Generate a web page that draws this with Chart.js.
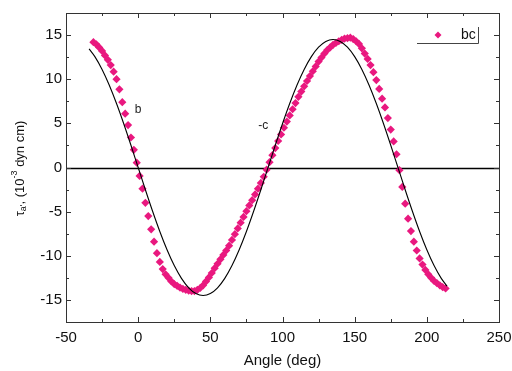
<!DOCTYPE html>
<html>
<head>
<meta charset="utf-8">
<script src="https://cdn.jsdelivr.net/npm/chart.js@4.4.1/dist/chart.umd.min.js"></script>
<style>
  html, body { margin: 0; padding: 0; background: #fff; }
  #wrap { width: 512px; height: 371px; }
</style>
</head>
<body>
<div id="wrap"><canvas id="torqueChart" width="512" height="371"></canvas></div>
<script>
// Fitted curve (solid black line)
const fitAngle = [-34, -30, -25, -20, -15, -10, -5, 0, 5, 10, 15, 20, 25, 30, 35, 40, 45, 50, 55, 60,
    65, 70, 75, 80, 85, 90, 95, 100, 105, 110, 115, 120, 125, 130, 135, 140, 145, 150, 155, 160,
    165, 170, 175, 180, 185, 190, 195, 200, 205, 210, 214];
const fitTorque = [13.44, 12.56, 11.11, 9.32, 7.25, 4.96, 2.52, 0, -2.52, -4.96, -7.25, -9.32, -11.11, -12.56, -13.63, -14.28, -14.5, -14.28, -13.63, -12.56,
    -11.11, -9.32, -7.25, -4.96, -2.52, 0, 2.52, 4.96, 7.25, 9.32, 11.11, 12.56, 13.63, 14.28, 14.5, 14.28, 13.63, 12.56, 11.11, 9.32,
    7.25, 4.96, 2.52, 0, -2.52, -4.96, -7.25, -9.32, -11.11, -12.56, -13.44];

// Measured bc torque (pink diamonds)
const bcAngle = [-31, -29, -27, -25, -23, -21, -19, -17, -15, -13, -11, -9, -7, -5, -3, -1,
    1, 3, 5, 7, 9, 11, 13, 15, 17, 19, 21, 23, 25, 27, 29, 31, 33, 35, 37, 39,
    41, 43, 45, 47, 49, 51, 53, 55, 57, 59, 61, 63, 65, 67, 69, 71, 73, 75, 77, 79,
    81, 83, 85, 87, 89, 91, 93, 95, 97, 99, 101, 103, 105, 107, 109, 111, 113, 115, 117, 119,
    121, 123, 125, 127, 129, 131, 133, 135, 137, 139, 141, 143, 145, 147, 149, 151, 153, 155, 157, 159,
    161, 163, 165, 167, 169, 171, 173, 175, 177, 179, 181, 183, 185, 187, 189, 191, 193, 195, 197, 199,
    201, 203, 205, 207, 209, 211, 213];
const bcTorque = [14.2, 13.95, 13.6, 13.2, 12.7, 12.2, 11.6, 10.85, 10.0, 8.85, 7.4, 6.1, 4.8, 3.4, 2.0, 0.55,
    -0.95, -2.4, -4.0, -5.5, -7.0, -8.4, -9.7, -10.7, -11.5, -12.1, -12.5, -12.9, -13.2, -13.4, -13.6, -13.75, -13.85, -13.95, -14.0, -14.0,
    -13.85, -13.65, -13.35, -12.9, -12.45, -11.95, -11.4, -10.9, -10.4, -9.9, -9.4, -8.85, -8.2, -7.55, -6.9, -6.25, -5.6, -4.95, -4.3, -3.7,
    -3.05, -2.4, -1.75, -1.05, -0.25, 0.6, 1.4, 2.2, 3.0, 3.75, 4.5, 5.2, 5.9, 6.6, 7.3, 8.0, 8.6, 9.2, 9.8, 10.35,
    10.9, 11.45, 12.0, 12.45, 12.9, 13.3, 13.6, 13.9, 14.1, 14.3, 14.45, 14.6, 14.65, 14.7, 14.55, 14.3, 14.0, 13.5, 12.9, 12.3,
    11.6, 10.8, 9.9, 8.9, 7.8, 6.8, 5.6, 4.3, 2.95, 1.5, -0.3, -2.2, -4.1, -5.8, -7.2, -8.4, -9.4, -10.3, -11.0, -11.6,
    -12.1, -12.5, -12.85, -13.1, -13.35, -13.55, -13.7];

const xTicks = [-50, 0, 50, 100, 150, 200, 250];
const yTicks = [-15, -10, -5, 0, 5, 10, 15];

const FONT = "'Liberation Sans', Arial, sans-serif";
const PINK = '#e9187f';

function toPoints(xs, ys) {
    return xs.map((x, i) => ({ x: x, y: ys[i] }));
}

function diamond(ctx, x, y, r) {
    ctx.beginPath();
    ctx.moveTo(x, y - r);
    ctx.lineTo(x + r, y);
    ctx.lineTo(x, y + r);
    ctx.lineTo(x - r, y);
    ctx.closePath();
    ctx.fill();
}

// Zero line, boxed frame with inward ticks, titles, notes and legend
const framePlugin = {
    id: 'frame',
    beforeDatasetsDraw(chart) {
        const { ctx, chartArea: a, scales: { y } } = chart;
        const y0 = Math.round(y.getPixelForValue(0)) + 0.5;
        ctx.save();
        ctx.strokeStyle = '#000';
        ctx.lineWidth = 1.5;
        ctx.beginPath();
        ctx.moveTo(a.left, y0);
        ctx.lineTo(a.right, y0);
        ctx.stroke();
        ctx.restore();
    },
    afterDatasetsDraw(chart) {
        const { ctx, chartArea: a, scales: { x, y } } = chart;
        ctx.save();
        ctx.strokeStyle = '#333';
        ctx.lineWidth = 1;
        ctx.strokeRect(Math.round(a.left) + 0.5, Math.round(a.top) + 0.5,
            Math.round(a.right - a.left), Math.round(a.bottom - a.top));

        ctx.beginPath();
        for (let i = 0; i < xTicks.length; i++) {
            const marks = [[xTicks[i], 5]];
            if (i < xTicks.length - 1) marks.push([(xTicks[i] + xTicks[i + 1]) / 2, 3]);
            marks.forEach(([v, len]) => {
                const px = Math.round(x.getPixelForValue(v)) + 0.5;
                ctx.moveTo(px, a.bottom); ctx.lineTo(px, a.bottom - len);
                ctx.moveTo(px, a.top); ctx.lineTo(px, a.top + len);
            });
        }
        const yMarks = [];
        yTicks.forEach(v => { yMarks.push([v, 5]); yMarks.push([v + 2.5, 3]); });
        yMarks.forEach(([v, len]) => {
            const py = Math.round(y.getPixelForValue(v)) + 0.5;
            if (py <= a.top + 1 || py >= a.bottom - 1) return;
            ctx.moveTo(a.left, py); ctx.lineTo(a.left + len, py);
            ctx.moveTo(a.right, py); ctx.lineTo(a.right - len, py);
        });
        ctx.stroke();

        // axis titles
        ctx.fillStyle = '#111';
        ctx.textAlign = 'center';
        ctx.textBaseline = 'middle';
        ctx.font = '15px ' + FONT;
        ctx.fillText('Angle (deg)', (a.left + a.right) / 2, 361);

        const parts = [
            { t: '\u03c4', size: 13, dy: 0 },
            { t: "a'", size: 9, dy: 4 },
            { t: ', (10', size: 13, dy: 0 },
            { t: '-3', size: 9, dy: -5 },
            { t: ' dyn cm)', size: 13, dy: 0 }
        ];
        ctx.save();
        ctx.translate(20, (a.top + a.bottom) / 2 + 1);
        ctx.rotate(-Math.PI / 2);
        ctx.textAlign = 'left';
        let total = 0;
        parts.forEach(p => { ctx.font = p.size + 'px ' + FONT; p.w = ctx.measureText(p.t).width; total += p.w; });
        let cx = -total / 2;
        parts.forEach(p => {
            ctx.font = p.size + 'px ' + FONT;
            ctx.fillText(p.t, cx, p.dy);
            cx += p.w;
        });
        ctx.restore();

        // curve notes
        ctx.font = '12px ' + FONT;
        ctx.fillStyle = '#222';
        ctx.fillText('b', x.getPixelForValue(0), y.getPixelForValue(6.5));
        ctx.fillText('-c', x.getPixelForValue(86.6), y.getPixelForValue(4.7));

        // legend
        ctx.strokeStyle = '#444';
        ctx.beginPath();
        ctx.moveTo(417, 43.5); ctx.lineTo(478.5, 43.5); ctx.lineTo(478.5, 27);
        ctx.stroke();
        ctx.fillStyle = PINK;
        diamond(ctx, 438, 35, 3.5);
        ctx.fillStyle = '#111';
        ctx.font = '14px ' + FONT;
        ctx.textAlign = 'left';
        ctx.fillText('bc', 461, 35);
        ctx.restore();
    }
};

new Chart(document.getElementById('torqueChart'), {
    type: 'scatter',
    data: {
        datasets: [
            {
                label: 'fit',
                data: toPoints(fitAngle, fitTorque),
                showLine: true,
                borderColor: '#000',
                borderWidth: 1.1,
                pointRadius: 0,
                cubicInterpolationMode: 'monotone'
            },
            {
                label: 'bc',
                data: toPoints(bcAngle, bcTorque),
                pointStyle: 'rectRot',
                pointRadius: 4.1,
                backgroundColor: PINK,
                borderColor: PINK,
                borderWidth: 0
            }
        ]
    },
    options: {
        responsive: false,
        animation: false,
        layout: { padding: { top: 13, right: 13, left: 0, bottom: 0 } },
        plugins: { legend: { display: false }, tooltip: { enabled: false } },
        scales: {
            x: {
                type: 'linear',
                min: -50,
                max: 250,
                grid: { display: false, drawTicks: false },
                border: { display: false },
                afterBuildTicks(s) { s.ticks = xTicks.map(v => ({ value: v })); },
                afterFit(s) { s.height = 49; s.paddingLeft = 0; s.paddingRight = 0; },
                ticks: { color: '#111', padding: 7, maxRotation: 0, font: { size: 15, family: FONT } }
            },
            y: {
                type: 'linear',
                min: -17.5,
                max: 17.5,
                grid: { display: false, drawTicks: false },
                border: { display: false },
                afterBuildTicks(s) { s.ticks = yTicks.map(v => ({ value: v })); },
                afterFit(s) { s.width = 66; s.paddingTop = 0; s.paddingBottom = 0; },
                ticks: { color: '#111', padding: 4, font: { size: 15, family: FONT } }
            }
        }
    },
    plugins: [framePlugin]
});
</script>
</body>
</html>
